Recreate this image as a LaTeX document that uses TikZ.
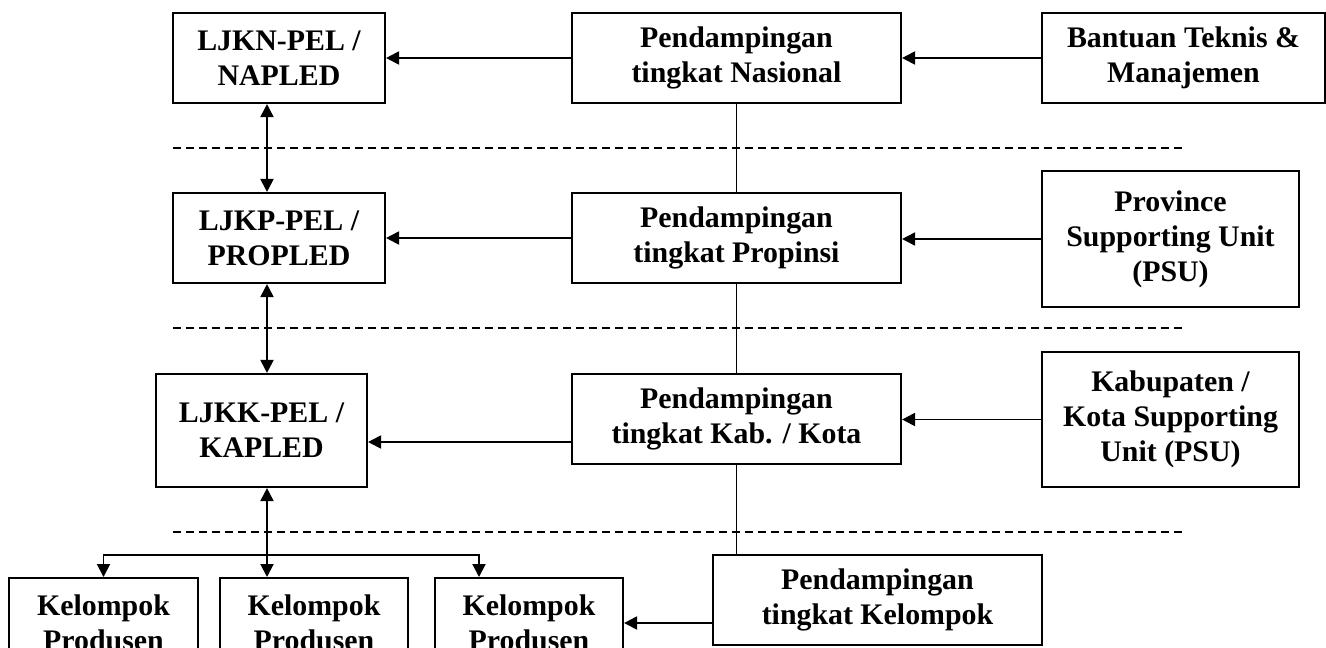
\documentclass[tikz,border=0pt]{standalone}
\usepackage{fontspec}
\setmainfont{Liberation Serif}
\usetikzlibrary{arrows.meta, positioning, calc}

\tikzset{
    boxsize/.style 2 args={minimum width=#1*0.02cm, minimum height=#2*0.02cm},
    panel/.style={draw, line width=1.2pt, align=center, inner sep=0pt},
    lowpanel/.style={panel, anchor=north, inner ysep=0.33cm, text depth=3cm},
    link/.style={line width=1.1pt},
    arr/.style={link, -{Triangle[length=0.26cm, width=0.26cm]}},
    dbl/.style={link, {Triangle[length=0.26cm, width=0.26cm]}-{Triangle[length=0.26cm, width=0.26cm]}},
    sep/.style={line width=0.9pt, dash pattern=on 0.16cm off 0.1cm},
}

\begin{document}
\begin{tikzpicture}[
    x=0.02cm, y=-0.02cm,
    every node/.style={font=\bfseries\fontsize{17}{20}\selectfont},
]

% ================================================================
% Coordinates are in pixels of a 1326 x 647 page, y grows downward.
%   left column   LJK... boxes,   arrows shared on x = 267
%   middle column Pendampingan,   joined on x = 737
%   right column  support units
% ================================================================
\useasboundingbox (0,0) rectangle (1326,647);

% ---------------------------------------------------------------- levels
\foreach \y in {148, 328, 532} {
  \draw[sep] (173,\y) -- (1182,\y);
}

% ---------------------------------------------------------------- left column
\node[panel, boxsize={212}{90}]  (ljkn) at (279,58)    {LJKN-PEL /\\NAPLED};
\node[panel, boxsize={212}{90}]  (ljkp) at (279,238)   {LJKP-PEL /\\PROPLED};
\node[panel, boxsize={211}{113}] (ljkk) at (261.5,430.5) {LJKK-PEL /\\KAPLED};

% ---------------------------------------------------------------- middle column
\node[panel, boxsize={329}{90}] (pnas)  at (736.5,58)  {Pendampingan\\tingkat Nasional};
\node[panel, boxsize={329}{90}] (pprop) at (736.5,238) {Pendampingan\\tingkat Propinsi};
\node[panel, boxsize={329}{90}] (pkab)  at (736.5,419) {Pendampingan\\tingkat Kab. / Kota};
\node[panel, boxsize={329}{90}] (pkel)  at (877.5,600) {Pendampingan\\tingkat Kelompok};

% ---------------------------------------------------------------- right column
\node[panel, boxsize={283}{90}]  (bantuan) at (1183.5,58)  {Bantuan Teknis \&\\Manajemen};
\node[panel, boxsize={257}{136}] (psu)     at (1170.5,239) {Province\\Supporting Unit\\(PSU)};
\node[panel, boxsize={257}{135}] (kabpsu)  at (1170.5,419.5) {Kabupaten /\\Kota Supporting\\Unit (PSU)};

% ---------------------------------------------------------------- producer groups (run off the page)
\node[lowpanel, boxsize={189}{0}] (kp1) at (103.5,577) {Kelompok\\Produsen};
\node[lowpanel, boxsize={188}{0}] (kp2) at (314,577)   {Kelompok\\Produsen};
\node[lowpanel, boxsize={188}{0}] (kp3) at (529,577)   {Kelompok\\Produsen};

% ---------------------------------------------------------------- helper points
\coordinate (lcol)   at (267,0);
\coordinate (fork)   at (267,555);
\coordinate (kp3top) at (479,577);
\coordinate (kabrow) at (0,442);
\coordinate (kelrow) at (0,623);

% ---------------------------------------------------------------- middle to left
\draw[arr] (pnas) -- (ljkn);
\draw[arr] (pprop) -- (ljkp);
\draw[arr] (pkab.west |- kabrow) -- (ljkk.east |- kabrow);
\draw[arr] (pkel.west |- kelrow) -- (kp3.east |- kelrow);

% ---------------------------------------------------------------- right to middle
\draw[arr] (bantuan) -- (pnas);
\draw[arr] (psu.west) -- (pprop.east |- psu.west);
\draw[arr] (kabpsu.west) -- (pkab.east |- kabpsu.west);

% ---------------------------------------------------------------- middle spine
\draw[link] (pnas) -- (pprop);
\draw[link] (pprop) -- (pkab);
\draw[link] (pkab.south) -- (pkab.south |- pkel.north);

% ---------------------------------------------------------------- left spine
\draw[dbl] (ljkn.south -| lcol) -- (ljkp.north -| lcol);
\draw[dbl] (ljkp.south -| lcol) -- (ljkk.north -| lcol);
\draw[dbl] (ljkk.south -| lcol) -- (kp2.north -| lcol);
\draw[arr] (fork) -| (kp1.north);
\draw[arr] (fork) -| (kp3top);

\end{tikzpicture}
\end{document}
